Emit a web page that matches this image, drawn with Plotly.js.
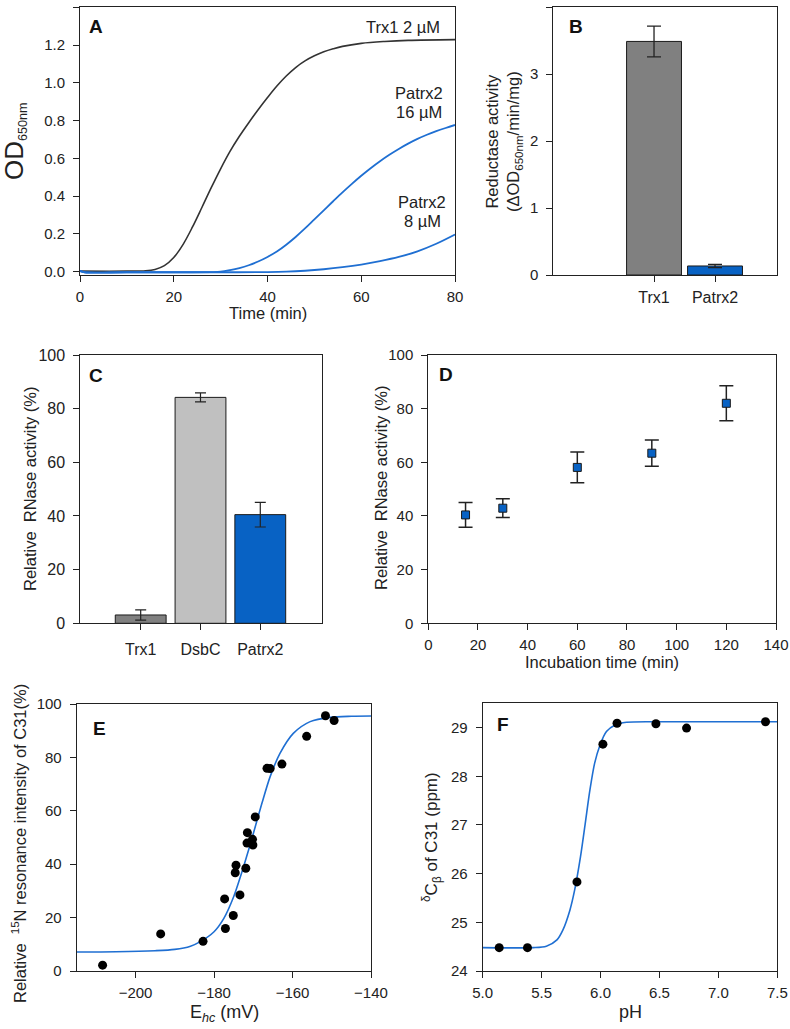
<!DOCTYPE html>
<html>
<head>
<meta charset="utf-8">
<script src="https://cdn.plot.ly/plotly-3.0.1.min.js"></script>
<style>
  html, body { margin: 0; padding: 0; background: #fff; }
  #fig { width: 790px; height: 1029px; }
</style>
</head>
<body>
<div id="fig"></div>
<script>
// ---- A: OD650 time courses of insulin reduction ----
const timeTrx1 = [0, 10, 14, 16, 18, 20, 22, 24, 26, 28, 30, 32, 34, 36, 38, 40, 42, 44, 46, 48, 50, 52, 54, 56, 60, 65, 70, 80];
const odTrx1 = [0.003, 0.003, 0.005, 0.012, 0.032, 0.075, 0.145, 0.237, 0.34, 0.445, 0.545, 0.637, 0.717, 0.789, 0.857, 0.922, 0.983, 1.036, 1.081, 1.116, 1.143, 1.164, 1.18, 1.193, 1.209, 1.219, 1.225, 1.229];
const timePatrx16 = [0, 1, 10, 20, 28, 30, 32, 34, 36, 38, 40, 42, 44, 46, 48, 50, 52, 54, 56, 58, 60, 62, 64, 66, 68, 70, 72, 74, 76, 78, 80];
const odPatrx16 = [0.004, -0.003, -0.003, -0.003, -0.002, 0.0, 0.008, 0.019, 0.034, 0.054, 0.078, 0.107, 0.143, 0.184, 0.229, 0.277, 0.325, 0.373, 0.42, 0.465, 0.508, 0.548, 0.585, 0.619, 0.65, 0.678, 0.703, 0.725, 0.744, 0.761, 0.777];
const timePatrx8 = [0, 1, 10, 20, 30, 40, 44, 48, 52, 56, 60, 64, 68, 72, 76, 80];
const odPatrx8 = [0.004, -0.003, -0.003, -0.003, -0.003, -0.002, 0.0, 0.005, 0.013, 0.024, 0.038, 0.056, 0.078, 0.108, 0.148, 0.197];

// ---- B: reductase activity ----
const reductaseProteins = ['Trx1', 'Patrx2'];
const reductaseActivity = [3.49, 0.135];
const reductaseError = [0.23, 0.025];
const reductaseColors = ['#808080', '#0862c4'];

// ---- C: relative RNase activity by protein ----
const rnaseProteins = ['Trx1', 'DsbC', 'Patrx2'];
const rnaseActivity = [3.1, 84.2, 40.5];
const rnaseError = [1.9, 1.7, 4.6];
const rnaseColors = ['#808080', '#c0c0c0', '#0862c4'];

// ---- D: RNase activity vs incubation time ----
const incubationTime = [15, 30, 60, 90, 120];
const incubationActivity = [40.4, 42.9, 58.1, 63.4, 82.0];
const incubationError = [4.6, 3.5, 5.7, 4.9, 6.5];

// ---- E: redox titration of C31 ----
const ehcPoints = [-208.4, -193.6, -182.8, -177.3, -177.1, -175.1, -174.6, -174.4, -173.4, -171.9, -171.6, -171.5, -170.2, -170.1, -169.5, -166.5, -165.7, -162.7, -156.4, -151.6, -149.4];
const intensityPoints = [2.2, 13.9, 11.1, 27.0, 15.9, 20.8, 36.8, 39.6, 28.5, 38.5, 47.9, 51.8, 49.3, 47.2, 57.7, 75.9, 75.8, 77.5, 87.9, 95.6, 93.8];
const ehcFit = [-215, -205, -195, -190, -186, -183.5, -180, -177.5, -175, -173, -171.2, -169.5, -167.8, -165.7, -163.2, -159.8, -155.5, -150.4, -145, -140];
const intensityFit = [7.1, 7.2, 7.6, 8.1, 9.3, 11.0, 14.7, 19.7, 27.8, 36.6, 45.3, 54.0, 62.8, 72.8, 81.5, 89.0, 93.4, 95.0, 95.4, 95.5];

// ---- F: pH titration of C31 C-beta shift ----
const phPoints = [5.14, 5.38, 5.80, 6.02, 6.14, 6.47, 6.73, 7.40];
const shiftPoints = [24.48, 24.48, 25.83, 28.66, 29.09, 29.08, 28.99, 29.12];
const phFit = [5.0, 5.43, 5.54, 5.63, 5.68, 5.74, 5.78, 5.83, 5.87, 5.91, 5.95, 5.995, 6.05, 6.12, 6.22, 6.56, 7.5];
const shiftFit = [24.48, 24.48, 24.51, 24.64, 24.84, 25.25, 25.66, 26.35, 27.03, 27.72, 28.27, 28.64, 28.92, 29.05, 29.11, 29.12, 29.12];

const W = 790, H = 1029;
const FONT = 'Liberation Sans, Arial, Helvetica, sans-serif';
const INK = '#222222';
const CURVE_BLUE = '#1f6fd2';

const px = v => v / W;
const py = v => 1 - v / H;

function axisBase(extra) {
  return Object.assign({
    showline: true, mirror: true, linecolor: INK, linewidth: 1,
    ticks: 'outside', ticklen: 6, tickwidth: 1, tickcolor: INK,
    showgrid: false, zeroline: false,
    tickfont: {family: FONT, size: 15, color: INK},
    fixedrange: true
  }, extra);
}
function xAxis(extra) { return axisBase(Object.assign({ticklabelstandoff: 2}, extra)); }
function yAxis(extra) { return axisBase(Object.assign({ticklabelstandoff: 5}, extra)); }

const smoothLine = (color, width) => ({color: color, width: width, shape: 'spline', smoothing: 1});

const traces = [
  // A
  {x: timeTrx1, y: odTrx1, xaxis: 'x', yaxis: 'y', type: 'scatter', mode: 'lines',
   line: smoothLine('#333333', 1.6), hoverinfo: 'skip'},
  {x: timePatrx16, y: odPatrx16, xaxis: 'x', yaxis: 'y', type: 'scatter', mode: 'lines',
   line: smoothLine(CURVE_BLUE, 1.8), hoverinfo: 'skip'},
  {x: timePatrx8, y: odPatrx8, xaxis: 'x', yaxis: 'y', type: 'scatter', mode: 'lines',
   line: smoothLine(CURVE_BLUE, 1.8), hoverinfo: 'skip'},
  // B
  {x: reductaseProteins, y: reductaseActivity, xaxis: 'x2', yaxis: 'y2', type: 'bar', width: 0.9,
   marker: {color: reductaseColors, line: {color: '#1a1a1a', width: 1}},
   error_y: {type: 'data', array: reductaseError, visible: true, color: INK, thickness: 1.3, width: 7}},
  // C
  {x: rnaseProteins, y: rnaseActivity, xaxis: 'x3', yaxis: 'y3', type: 'bar', width: 0.85,
   marker: {color: rnaseColors, line: {color: '#1a1a1a', width: 1}},
   error_y: {type: 'data', array: rnaseError, visible: true, color: INK, thickness: 1.2, width: 5.5}},
  // D
  {x: incubationTime, y: incubationActivity, xaxis: 'x4', yaxis: 'y4', type: 'scatter', mode: 'markers',
   marker: {symbol: 'square', size: 8, color: '#0862c4', line: {color: '#1a1a1a', width: 1}},
   error_y: {type: 'data', array: incubationError, visible: true, color: INK, thickness: 1.5, width: 7}},
  // E
  {x: ehcFit, y: intensityFit, xaxis: 'x5', yaxis: 'y5', type: 'scatter', mode: 'lines',
   line: {color: CURVE_BLUE, width: 1.6, shape: 'spline', smoothing: 0.8}, hoverinfo: 'skip'},
  {x: ehcPoints, y: intensityPoints, xaxis: 'x5', yaxis: 'y5', type: 'scatter', mode: 'markers',
   marker: {symbol: 'circle', size: 9, color: '#000000'}},
  // F
  {x: phFit, y: shiftFit, xaxis: 'x6', yaxis: 'y6', type: 'scatter', mode: 'lines',
   line: {color: CURVE_BLUE, width: 1.6, shape: 'spline', smoothing: 0.8}, hoverinfo: 'skip'},
  {x: phPoints, y: shiftPoints, xaxis: 'x6', yaxis: 'y6', type: 'scatter', mode: 'markers',
   marker: {symbol: 'circle', size: 9, color: '#000000'}}
];

function note(text, x, y, opts) {
  return Object.assign({
    text: text, xref: 'paper', yref: 'paper', x: px(x), y: py(y),
    xanchor: 'center', yanchor: 'middle', showarrow: false,
    font: {family: FONT, size: 16.5, color: INK}
  }, opts || {});
}
function panelLabel(letter, x, y) {
  return note('<b>' + letter + '</b>', x, y, {xanchor: 'left', font: {family: FONT, size: 19, color: '#111'}});
}
function yTitle(text, x, y, size) {
  return note(text, x, y, {textangle: -90, font: {family: FONT, size: size || 16.5, color: INK}});
}

const annotations = [
  panelLabel('A', 86.5, 26.7),
  panelLabel('B', 566.5, 26.7),
  panelLabel('C', 87, 375),
  panelLabel('D', 437, 374.5),
  panelLabel('E', 90.5, 728.5),
  panelLabel('F', 494.5, 724.5),
  // curve labels in A
  note('Trx1 2 \u00b5M', 442, 27, {xanchor: 'right'}),
  note('Patrx2', 418.5, 93.3),
  note('16 \u00b5M', 418.5, 111.7),
  note('Patrx2', 422.5, 201.7),
  note('8 \u00b5M', 422.5, 221),
  // axis titles
  yTitle('<span style="font-size:26px">OD</span><sub>650nm</sub>', 15, 141, 18),
  note('Time (min)', 267.5, 313),
  yTitle('Reductase activity<br>(\u0394OD<sub>650nm</sub>/min/mg)', 504, 141),
  yTitle('Relative \u00a0RNase activity (%)', 30, 489),
  yTitle('Relative \u00a0RNase activity (%)', 381, 488),
  note('Incubation time (min)', 602, 662),
  yTitle('Relative \u00a0<sup>15</sup>N resonance intensity of C31(%)', 19, 844),
  note('E<sub><i>hc</i></sub> (mV)', 224, 1013, {font: {family: FONT, size: 18, color: INK}}),
  yTitle('<sup>\u03b4</sup>C<sub>\u03b2</sub> of C31 (ppm)', 431, 837, 17),
  note('pH', 630, 1011.5, {font: {family: FONT, size: 18, color: INK}})
];

const layout = {
  width: W, height: H,
  margin: {l: 0, r: 0, t: 0, b: 0},
  paper_bgcolor: '#ffffff', plot_bgcolor: '#ffffff',
  showlegend: false,
  font: {family: FONT, color: INK},
  // A
  xaxis: xAxis({domain: [px(80), px(455)], anchor: 'y', range: [0, 80], dtick: 20, tick0: 0}),
  yaxis: yAxis({domain: [py(275), py(7.3)], anchor: 'x', range: [-0.0175, 1.4], dtick: 0.2, tick0: 0, tickformat: '.1f'}),
  // B
  xaxis2: xAxis({domain: [px(553.3), px(776.7)], anchor: 'y2', type: 'category', range: [-1.651, 2.011],
                 tickfont: {family: FONT, size: 16, color: INK}}),
  yaxis2: yAxis({domain: [py(275), py(7.3)], anchor: 'x2', range: [0, 4], dtick: 1}),
  // C
  xaxis3: xAxis({domain: [px(80.3), px(321.7)], anchor: 'y3', type: 'category', range: [-1.01, 3.027],
                 tickfont: {family: FONT, size: 16, color: INK}, ticklabelstandoff: 5}),
  yaxis3: yAxis({domain: [py(623.3), py(355)], anchor: 'x3', range: [0, 100], dtick: 20,
                 tickfont: {family: FONT, size: 16, color: INK}}),
  // D
  xaxis4: xAxis({domain: [px(428.3), px(776)], anchor: 'y4', range: [0, 140], dtick: 20}),
  yaxis4: yAxis({domain: [py(623.3), py(355)], anchor: 'x4', range: [0, 100], dtick: 20}),
  // E
  xaxis5: xAxis({domain: [px(76.7), px(371)], anchor: 'y5', range: [-215, -140], dtick: 20, tick0: -200}),
  yaxis5: yAxis({domain: [py(971), py(704)], anchor: 'x5', range: [0, 100], dtick: 20}),
  // F
  xaxis6: xAxis({domain: [px(482.7), px(777.3)], anchor: 'y6', range: [5, 7.5], dtick: 0.5, tickformat: '.1f'}),
  yaxis6: yAxis({domain: [py(971), py(703.3)], anchor: 'x6', range: [24, 29.5], dtick: 1, tick0: 24}),
  annotations: annotations
};

Plotly.newPlot('fig', traces, layout, {staticPlot: true, displayModeBar: false});
</script>
</body>
</html>
